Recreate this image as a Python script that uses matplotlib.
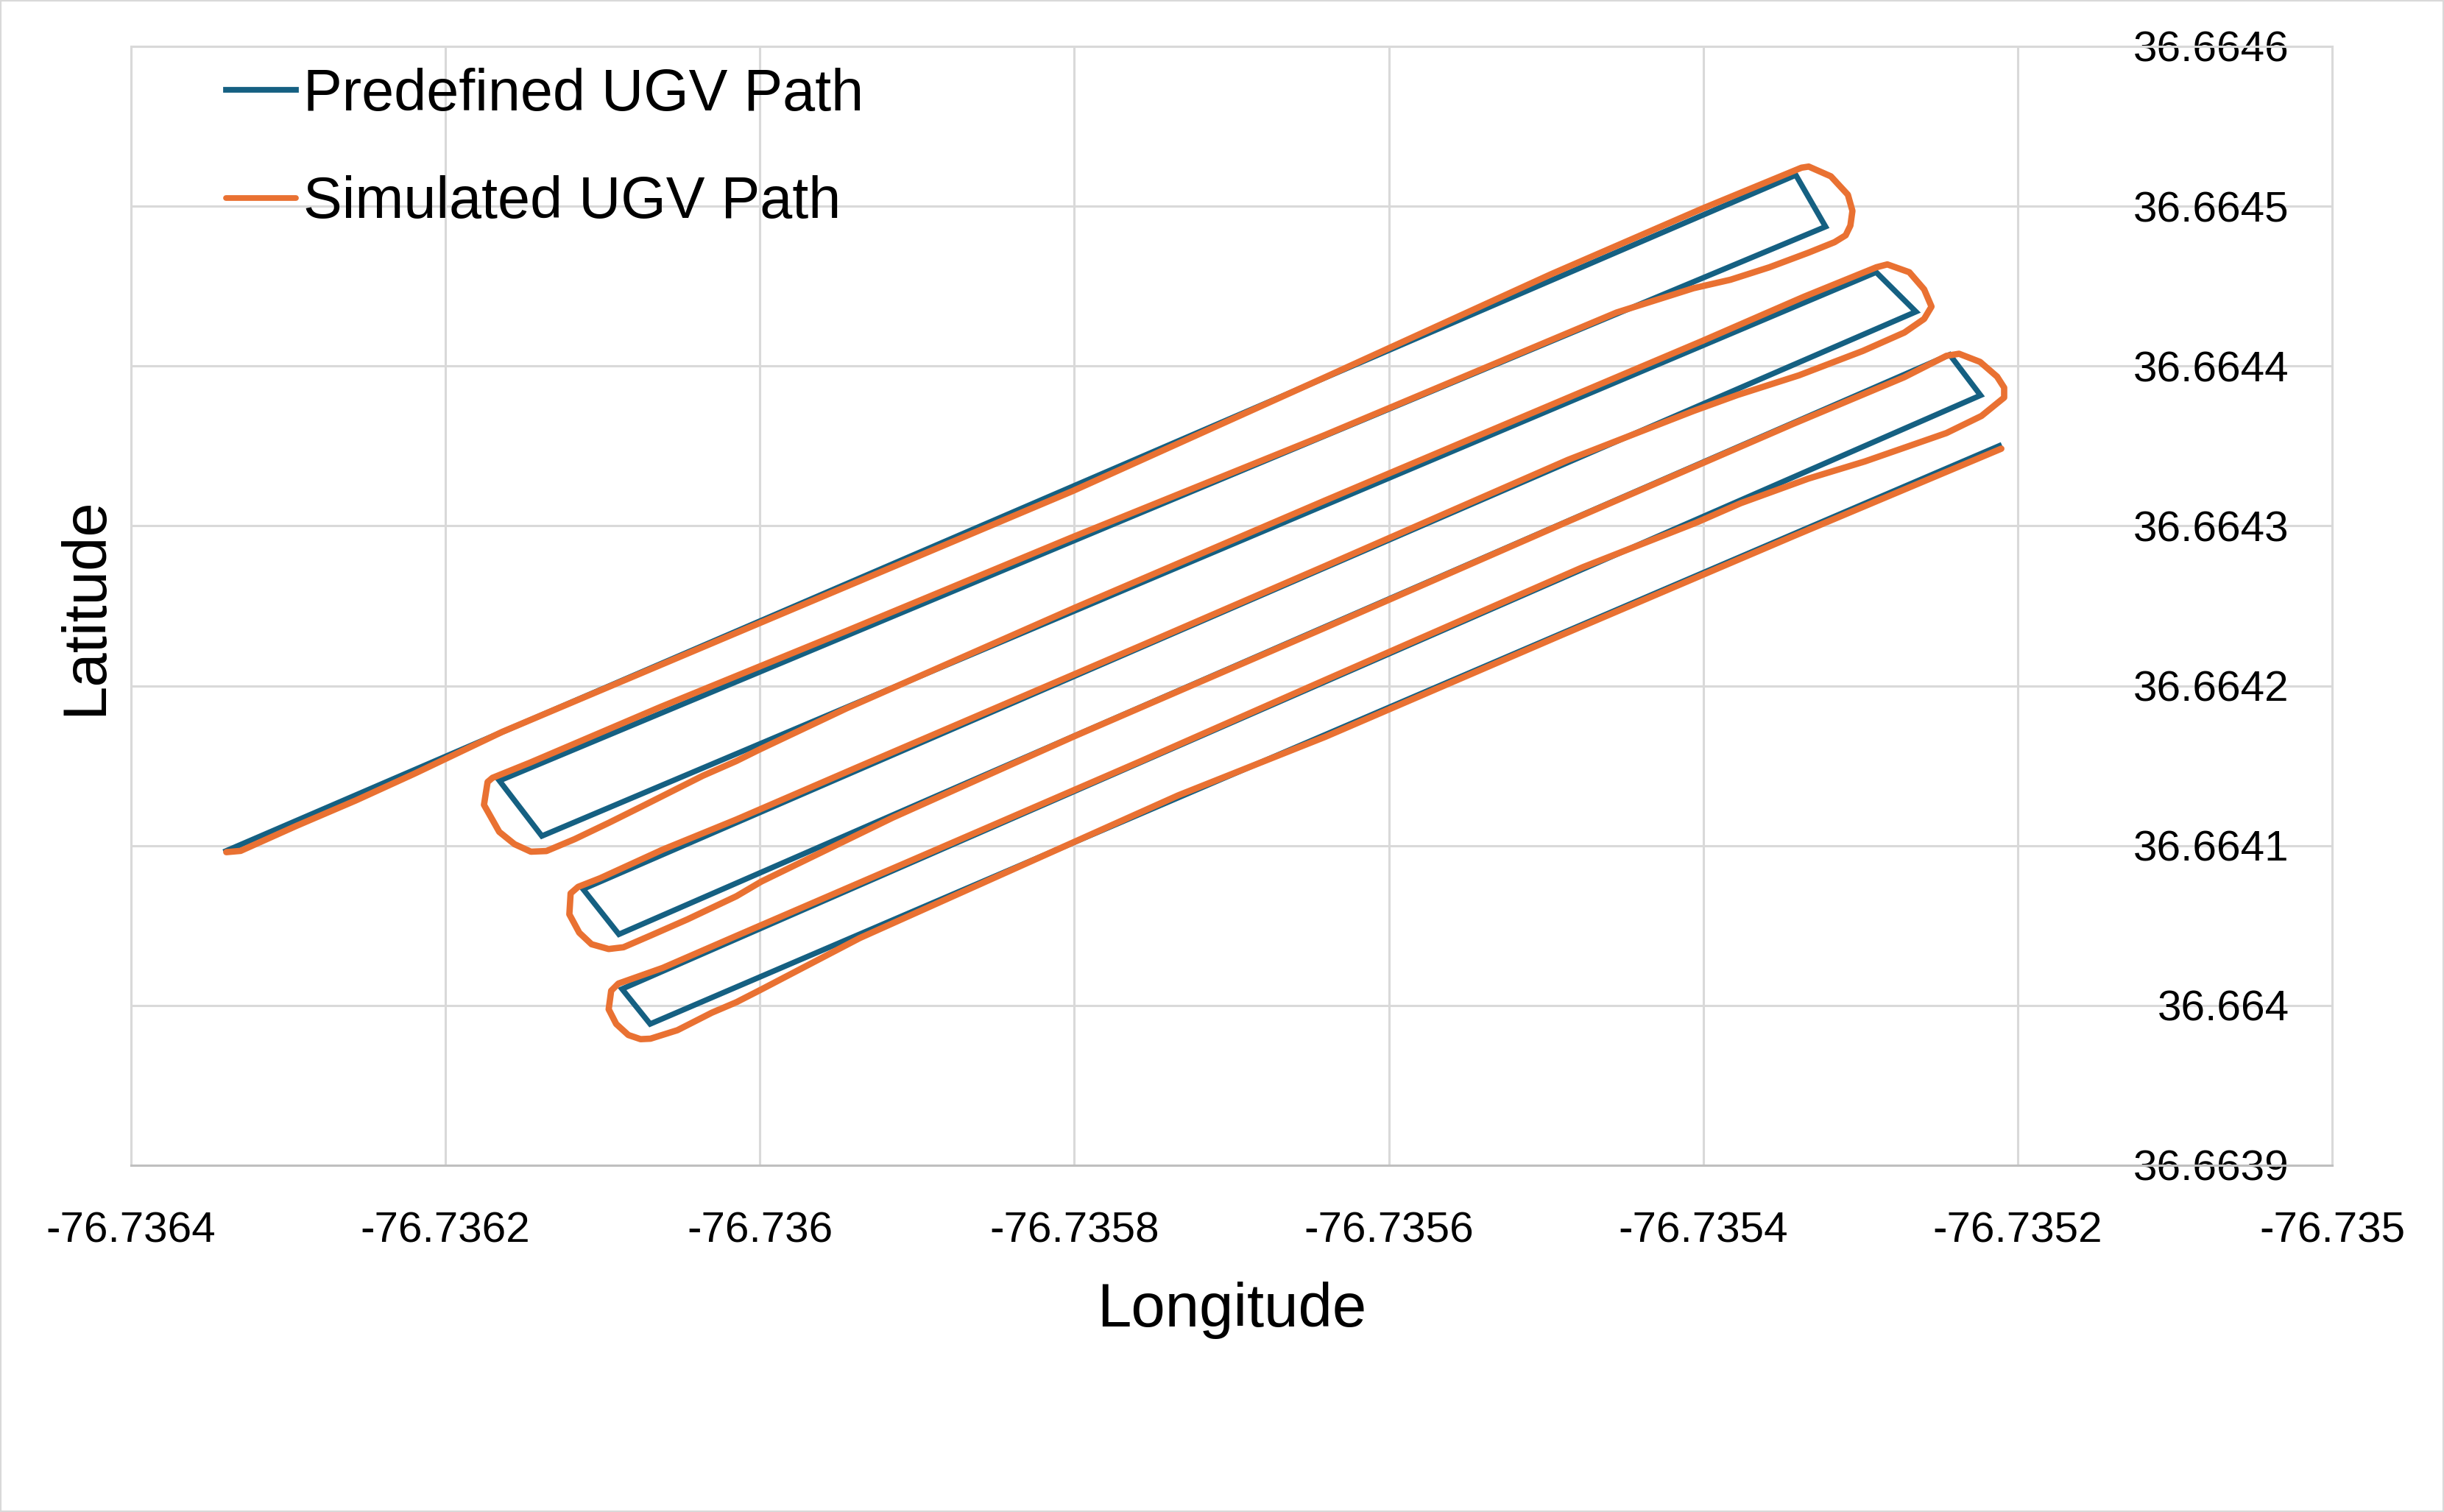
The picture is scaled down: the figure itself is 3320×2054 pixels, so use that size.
"""
Predefined vs simulated UGV path (lat/lon)
"""
import matplotlib
matplotlib.use("Agg")
import matplotlib.pyplot as plt
from matplotlib.patches import Rectangle
from matplotlib.ticker import FuncFormatter, MultipleLocator

# Predefined path waypoints
pred_lon = [-76.7363395, -76.7353411, -76.7353222, -76.7361657, -76.7361387,
            -76.7352900, -76.7352647, -76.7361125, -76.7360897, -76.7352432,
            -76.7352236, -76.7360877, -76.7360698, -76.7352117]
pred_lat = [36.6640967, 36.6645195, 36.6644872, 36.6641406, 36.6641060,
            36.6644587, 36.6644340, 36.6640728, 36.6640445, 36.6644071,
            36.6643817, 36.6640103, 36.6639884, 36.6643501]

# Simulated path
sim_lon = [-76.7363394, -76.7363303, -76.7362949, -76.7362569, -76.7362195,
           -76.7361640, -76.7360009, -76.7358011, -76.7356405, -76.7354967,
           -76.7354006, -76.7353375, -76.7353329, -76.7353188, -76.7353080,
           -76.7353051, -76.7353064, -76.7353094, -76.7353165, -76.7353329,
           -76.7353579, -76.7353827, -76.7354062, -76.7354551, -76.7356405,
           -76.7358011, -76.7359449, -76.7360635, -76.7361462, -76.7361701,
           -76.7361732, -76.7361755, -76.7361658, -76.7361561, -76.7361457,
           -76.7361358, -76.7361179, -76.7360958, -76.7360731, -76.7360363,
           -76.7360150, -76.7360009, -76.7359448, -76.7358011, -76.7356405,
           -76.7354006, -76.7353361, -76.7352899, -76.7352829, -76.7352689,
           -76.7352595, -76.7352548, -76.7352595, -76.7352720, -76.7352984,
           -76.7353391, -76.7353782, -76.7354062, -76.7354861, -76.7356405,
           -76.7357575, -76.7359380, -76.7360150, -76.7360618, -76.7361016,
           -76.7361156, -76.7361204, -76.7361212, -76.7361149, -76.7361071,
           -76.7360962, -76.7360868, -76.7360696, -76.7360462, -76.7360150,
           -76.7359991, -76.7359155, -76.7358005, -76.7357575, -76.7356405,
           -76.7354918, -76.7353431, -76.7352722, -76.7352453, -76.7352373,
           -76.7352239, -76.7352131, -76.7352086, -76.7352086, -76.7352230,
           -76.7352453, -76.7352973, -76.7353331, -76.7353762, -76.7354048,
           -76.7354765, -76.7356405, -76.7357575, -76.7358884, -76.7360150,
           -76.7360618, -76.7360900, -76.7360946, -76.7360962, -76.7360914,
           -76.7360837, -76.7360759, -76.7360696, -76.7360525, -76.7360305,
           -76.7360150, -76.7359991, -76.7359364, -76.7358005, -76.7357340,
           -76.7356405, -76.7354918, -76.7353431, -76.7352104]
sim_lat = [36.6640959, 36.6640967, 36.6641123, 36.6641283, 36.6641451,
           36.6641711, 36.6642389, 36.6643218, 36.6643930, 36.6644575,
           36.6644985, 36.6645241, 36.6645248, 36.6645187, 36.6645072,
           36.6644971, 36.6644879, 36.6644818, 36.6644775, 36.6644710,
           36.6644618, 36.6644540, 36.6644487, 36.6644335, 36.6643569,
           36.6642930, 36.6642343, 36.6641866, 36.6641519, 36.6641424,
           36.6641398, 36.6641255, 36.6641086, 36.6641009, 36.6640962,
           36.6640966, 36.6641040, 36.6641144, 36.6641255, 36.6641437,
           36.6641529, 36.6641598, 36.6641859, 36.6642482, 36.6643159,
           36.6644157, 36.6644433, 36.6644618, 36.6644636, 36.6644587,
           36.6644480, 36.6644372, 36.6644295, 36.6644210, 36.6644095,
           36.6643942, 36.6643819, 36.6643719, 36.6643413, 36.6642749,
           36.6642251, 36.6641490, 36.6641163, 36.6640975, 36.6640796,
           36.6640742, 36.6640701, 36.6640570, 36.6640455, 36.6640383,
           36.6640353, 36.6640364, 36.6640437, 36.6640538, 36.6640683,
           36.6640775, 36.6641175, 36.6641682, 36.6641865, 36.6642363,
           36.6643003, 36.6643637, 36.6643930, 36.6644064, 36.6644077,
           36.6644026, 36.6643934, 36.6643865, 36.6643803, 36.6643688,
           36.6643581, 36.6643403, 36.6643296, 36.6643142, 36.6643019,
           36.6642742, 36.6642036, 36.6641529, 36.6640972, 36.6640435,
           36.6640235, 36.6640137, 36.6640092, 36.6639976, 36.6639884,
           36.6639815, 36.6639789, 36.6639792, 36.6639845, 36.6639955,
           36.6640020, 36.6640100, 36.6640422, 36.6641021, 36.6641314,
           36.6641680, 36.6642310, 36.6642934, 36.6643483]

x_min, x_max, x_step = -76.7364, -76.7350, 0.0002
y_min, y_max, y_step = 36.6639, 36.6646, 0.0001

blue = "#156082"
orange = "#E97132"
grid_c = "#D9D9D9"

plt.rcParams["font.family"] = ["Liberation Sans", "DejaVu Sans"]

W, H = 3320, 2054
fig = plt.figure(figsize=(W / 100, H / 100), dpi=100)
ax = fig.add_axes([178 / W, 1 - 1583 / H, (3168 - 178) / W, (1583 - 63) / H])

ax.plot(pred_lon, pred_lat, color=blue, lw=5.4, solid_joinstyle="miter",
        label="Predefined UGV Path", zorder=3)
ax.plot(sim_lon, sim_lat, color=orange, lw=6.2, solid_joinstyle="round",
        solid_capstyle="round", label="Simulated UGV Path", zorder=4)

ax.set_xlim(x_min, x_max)
ax.set_ylim(y_min, y_max)
ax.xaxis.set_major_locator(MultipleLocator(x_step))
ax.yaxis.set_major_locator(MultipleLocator(y_step))

fmt = FuncFormatter(lambda v, p: f"{v:.4f}".rstrip("0").rstrip("."))
ax.xaxis.set_major_formatter(fmt)
ax.yaxis.set_major_formatter(fmt)

ax.grid(True, color=grid_c, lw=2.2, zorder=0)
ax.set_axisbelow(True)
for s in ax.spines.values():
    s.set_color(grid_c)
    s.set_linewidth(2.2)
ax.spines["bottom"].set_color("#BFBFBF")

ax.yaxis.tick_right()
ax.tick_params(axis="both", length=0, labelsize=42, colors="black")
ax.tick_params(axis="x", pad=45)
ax.tick_params(axis="y", pad=-42)
for lbl in ax.get_yticklabels():
    lbl.set_horizontalalignment("right")

fig.text(1673 / W, 1 - 1802 / H, "Longitude", ha="center", va="baseline",
         fontsize=60)
fig.text(116 / W, 1 - 824 / H, "Latitude", ha="center", va="center",
         rotation=90, fontsize=60)

leg = ax.legend(loc="upper left", bbox_to_anchor=(307 / W, 1 - 92 / H),
                bbox_transform=fig.transFigure, frameon=False, fontsize=57,
                handlelength=1.2, handletextpad=0.12, labelspacing=0.9,
                borderpad=0, borderaxespad=0)
for h in leg.get_lines():
    h.set_linewidth(5.6)

fig.patches.append(Rectangle((0, 0), 1, 1, transform=fig.transFigure,
                             fill=False, edgecolor=grid_c, lw=3))

fig.savefig("out.png", dpi=100, facecolor="white")
